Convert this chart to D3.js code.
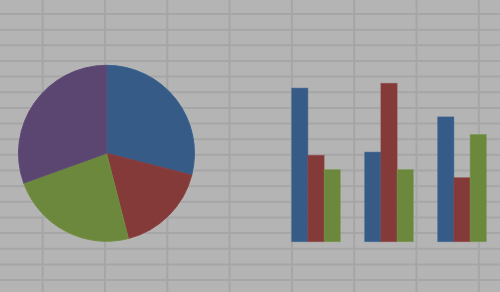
<!DOCTYPE html>
<html>
<head>
<meta charset="utf-8">
<script src="https://cdn.jsdelivr.net/npm/d3@7"></script>
<style>
  body { margin: 0; background: #b4b4b4; }
  svg { display: block; }
</style>
</head>
<body>
<svg id="chart" width="500" height="292"></svg>
<script>
// pie slices, clockwise from 12 o'clock
const pieNames = ["A", "B", "C", "D"];
const pieValues = [29, 17, 23.5, 30.5];
const pieColors = ["#365b87", "#853a3a", "#6b883d", "#5b4571"];

// grouped bars
const groups = ["G1", "G2", "G3"];
const series = ["S1", "S2", "S3"];
const barValues = [
  [96, 54, 45],
  [56, 99, 45],
  [78, 40, 67]
];
const barColors = ["#365b87", "#853a3a", "#6b883d"];

const width = 500;
const height = 292;
const svg = d3.select("#chart");

svg.append("rect")
    .attr("width", width)
    .attr("height", height)
    .attr("fill", "#b4b4b4");

// spreadsheet grid behind everything
const cols = d3.range(8);
const rows = d3.range(18);
const gx = d3.scaleLinear().domain([0, 1]).range([42.7, 105]);
const gy = d3.scaleLinear().domain([0, 1]).range([14, 29.65]);

svg.append("g")
    .attr("stroke", "#a6a6a6")
    .attr("stroke-width", 2)
    .call(g => g.selectAll("line.h")
      .data(rows)
      .join("line")
        .attr("class", "h")
        .attr("x1", 0).attr("x2", width)
        .attr("y1", d => gy(d)).attr("y2", d => gy(d)))
    .call(g => g.selectAll("line.v")
      .data(cols)
      .join("line")
        .attr("class", "v")
        .attr("y1", 0).attr("y2", height)
        .attr("x1", d => gx(d)).attr("x2", d => gx(d)));

// pie
const radius = 88;
const pie = d3.pie().sort(null).value(d => d);
const arc = d3.arc().innerRadius(0).outerRadius(radius);

svg.append("g")
    .attr("transform", "translate(106.5,153.3)")
  .selectAll("path")
  .data(pie(pieValues))
  .join("path")
    .attr("d", arc)
    .attr("fill", (d, i) => pieColors[i])
    .attr("stroke", (d, i) => d3.color(pieColors[i]).brighter(0.15))
    .attr("stroke-width", 1);

// bars
const x0 = d3.scaleBand()
    .domain(groups)
    .range([291.7, 291.7 + 73 * 3])
    .paddingInner(0)
    .paddingOuter(0);

const x1 = d3.scaleBand()
    .domain(series)
    .range([0, 48.6]);

const y = d3.scaleLinear()
    .domain([0, 100])
    .range([241.7, 81.7]);

svg.append("g")
  .selectAll("g")
  .data(barValues)
  .join("g")
    .attr("transform", (d, i) => `translate(${x0(groups[i])},0)`)
  .selectAll("rect")
  .data(d => d)
  .join("rect")
    .attr("x", (d, i) => x1(series[i]))
    .attr("y", d => y(d))
    .attr("width", x1.bandwidth())
    .attr("height", d => y(0) - y(d))
    .attr("fill", (d, i) => barColors[i])
    .attr("stroke", (d, i) => d3.color(barColors[i]).brighter(0.3))
    .attr("stroke-opacity", 0.6)
    .attr("stroke-width", 0.8);
</script>
</body>
</html>
